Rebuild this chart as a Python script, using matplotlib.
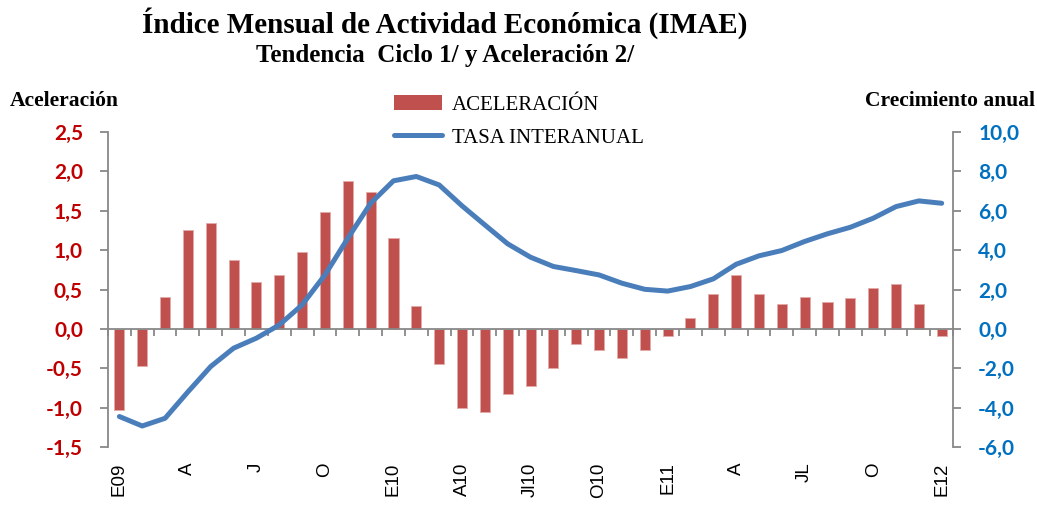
import numpy as np
import matplotlib
matplotlib.use('Agg')
import matplotlib.pyplot as plt
from matplotlib.ticker import FuncFormatter
from matplotlib.patches import Patch
from matplotlib.lines import Line2D

plt.rcParams['axes.unicode_minus'] = False

# meses E09 .. E12 (37 meses)
meses = ['E09', 'F', 'M', 'A', 'M', 'J', 'Jl', 'A', 'S', 'O', 'N', 'D',
         'E10', 'F', 'M', 'A10', 'M', 'J', 'Jl10', 'A', 'S', 'O10', 'N', 'D',
         'E11', 'F', 'M', 'A', 'M', 'JL', 'Jl', 'A', 'S', 'O', 'N', 'D', 'E12']
etiquetas = {0: 'E09', 3: 'A', 6: 'J', 9: 'O', 12: 'E10', 15: 'A10', 18: 'Jl10',
             21: 'O10', 24: 'E11', 27: 'A', 30: 'JL', 33: 'O', 36: 'E12'}

aceleracion = [-1.03, -0.47, 0.41, 1.25, 1.35, 0.87, 0.59, 0.69, 0.97, 1.48, 1.88, 1.74,
               1.15, 0.29, -0.45, -1.00, -1.05, -0.83, -0.72, -0.50, -0.19, -0.27, -0.37, -0.27,
               -0.09, 0.14, 0.44, 0.69, 0.44, 0.31, 0.41, 0.34, 0.39, 0.52, 0.57, 0.31, -0.09]

tasa_interanual = [-4.45, -4.93, -4.54, -3.2, -1.91, -0.98, -0.47, 0.2, 1.22, 2.74, 4.6, 6.38,
                   7.52, 7.74, 7.31, 6.25, 5.28, 4.32, 3.64, 3.17, 2.96, 2.74, 2.32, 2.01,
                   1.92, 2.15, 2.54, 3.28, 3.71, 3.98, 4.44, 4.83, 5.16, 5.62, 6.21, 6.50, 6.38]

rojo = '#C0504D'
azul = '#4A7EBB'
gris = '#888888'

fig = plt.figure(figsize=(10.37, 5.08), dpi=100)
ax = fig.add_axes([0.1041, 0.12, 0.815, 0.6202])
ax2 = ax.twinx()

x = np.arange(len(meses))
ax.bar(x, aceleracion, width=0.44, color=rojo, edgecolor='#E3AAA8', linewidth=0.6, zorder=2)
ax2.plot(x, tasa_interanual, color=azul, linewidth=3.6, solid_capstyle='round', zorder=3)

ax.set_xlim(-0.5, len(meses) - 0.5)
ax.set_ylim(-1.5, 2.5)
ax2.set_ylim(-6, 10)
ax.set_yticks(np.arange(-1.5, 2.51, 0.5))
ax2.set_yticks(np.arange(-6, 10.1, 2))

coma = FuncFormatter(lambda v, p: ('%.1f' % v).replace('.', ','))
ax.yaxis.set_major_formatter(coma)
ax2.yaxis.set_major_formatter(coma)

for s in ['top', 'right']:
    ax.spines[s].set_visible(False)
for s in ['top', 'left', 'bottom']:
    ax2.spines[s].set_visible(False)
ax.spines['left'].set_color(gris)
ax.spines['left'].set_linewidth(1.3)
ax2.spines['right'].set_color(gris)
ax2.spines['right'].set_linewidth(1.3)

# eje x en cero con marcas entre categorias
ax.spines['bottom'].set_position(('data', 0))
ax.spines['bottom'].set_color(gris)
ax.spines['bottom'].set_linewidth(1.3)
ax.set_xticks(np.arange(-0.5, len(meses), 1.0))
ax.tick_params(axis='x', direction='out', length=5, width=1.3, color=gris, labelbottom=False)

ax.tick_params(axis='y', direction='out', length=6, width=1.3, color=gris, pad=12,
               labelcolor='#C00000', labelsize=15)
ax2.tick_params(axis='y', direction='out', length=6, width=1.3, color=gris, pad=12,
                labelcolor='#0070C0', labelsize=15)
for t in ax.get_yticklabels() + ax2.get_yticklabels():
    t.set_fontfamily('Lato')
    t.set_fontweight('bold')

for i, lab in etiquetas.items():
    ax.text(x[i], -0.048, lab, transform=ax.get_xaxis_transform(), rotation=90,
            ha='center', va='top', fontsize=13.5, family='Liberation Sans')

fig.text(0.429, 0.955, 'Índice Mensual de Actividad Económica (IMAE)', ha='center', va='center',
         fontsize=21, fontweight='bold', family='Liberation Serif')
fig.text(0.429, 0.890, 'Tendencia  Ciclo 1/ y Aceleración 2/', ha='center', va='center',
         fontsize=18, fontweight='bold', family='Liberation Serif')
fig.text(0.009, 0.801, 'Aceleración', ha='left', va='center',
         fontsize=15.5, fontweight='bold', family='Liberation Serif')
fig.text(0.998, 0.801, 'Crecimiento anual', ha='right', va='center',
         fontsize=15.5, fontweight='bold', family='Liberation Serif')

handles = [Patch(facecolor=rojo, edgecolor='none'),
           Line2D([0], [0], color=azul, linewidth=3.6, solid_capstyle='round')]
fig.legend(handles, ['ACELERACIÓN', 'TASA INTERANUAL'], loc='upper left',
           bbox_to_anchor=(0.362, 0.85), frameon=False, handlelength=2.3, handletextpad=0.48,
           labelspacing=0.65, prop={'family': 'Liberation Serif', 'size': 15})

fig.savefig('out.png', dpi=100)
